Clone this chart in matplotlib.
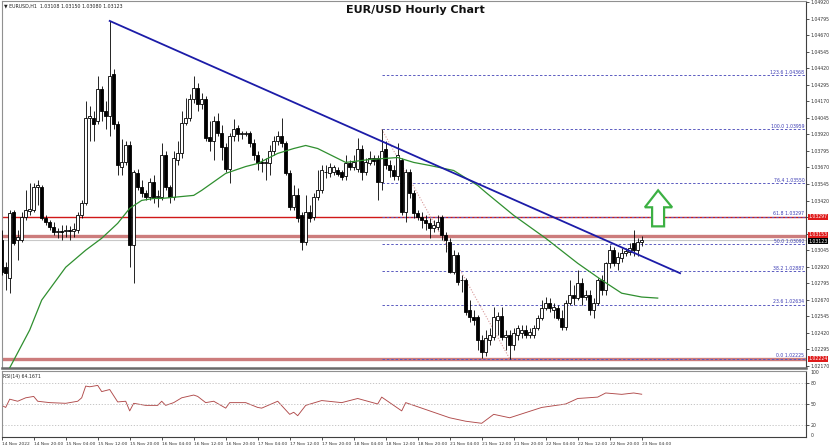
import matplotlib
matplotlib.use("Agg")
import matplotlib.pyplot as plt
import numpy as np
from matplotlib.patches import Polygon
from matplotlib.transforms import blended_transform_factory

# ---------------- data ----------------
opens = [1.03120,1.02916,1.02834,1.03331,1.03120,1.03120,1.03293,1.03338,1.03346,1.03519,
         1.03519,1.03286,1.03256,1.03218,1.03180,1.03188,1.03188,1.03195,1.03188,1.03195,
         1.03308,1.03399,1.04047,1.04047,1.04024,1.04265,1.04099,1.04062,1.04378,1.04002,
         1.03670,1.03708,1.03836,1.03082,1.03625,1.03519,1.03474,1.03444,1.03557,1.03444,
         1.03444,1.03761,1.03519,1.03444,1.03723,1.03776,1.04009,1.04047,1.04190,1.04273,
         1.04152,1.04190,1.03903,1.03873,1.04024,1.03934,1.03821,1.03662,1.03911,1.03971,
         1.03926,1.03926,1.03934,1.03858,1.03761,1.03708,1.03700,1.03700,1.03798,1.03873,
         1.03911,1.03851,1.03625,1.03369,1.03459,1.03308,1.03105,1.03331,1.03293,1.03444,
         1.03497,1.03632,1.03625,1.03632,1.03647,1.03632,1.03602,1.03700,1.03670,1.03662,
         1.03813,1.03632,1.03700,1.03738,1.03738,1.03557,1.03806,1.03685,1.03647,1.03602,
         1.03723,1.03331,1.03632,1.03474,1.03323,1.03293,1.03271,1.03248,1.03210,1.03218,
         1.03293,1.03158,1.03105,1.02879,1.03008,1.02819,1.02819,1.02593,1.02540,1.02540,
         1.02367,1.02276,1.02367,1.02389,1.02517,1.02548,1.02389,1.02404,1.02329,1.02404,
         1.02419,1.02442,1.02404,1.02404,1.02457,1.02533,1.02608,1.02646,1.02593,1.02608,
         1.02533,1.02465,1.02646,1.02706,1.02683,1.02796,1.02691,1.02706,1.02593,1.02646,
         1.02819,1.02743,1.02946,1.03045,1.02946,1.02984,1.03022,1.03030,1.03097,1.03045,
         1.03108]
highs = [1.03195,1.02954,1.03346,1.03346,1.03195,1.03331,1.03497,1.03549,1.03549,1.03572,
         1.03534,1.03308,1.03271,1.03256,1.03210,1.03233,1.03233,1.03226,1.03248,1.03331,
         1.03421,1.04175,1.04137,1.04099,1.04363,1.04288,1.04175,1.04777,1.04416,1.04024,
         1.03888,1.03873,1.03873,1.03647,1.03662,1.03572,1.03497,1.03587,1.03610,1.03497,
         1.03858,1.03798,1.03534,1.03798,1.03873,1.04099,1.04197,1.04227,1.04363,1.04310,
         1.04235,1.04212,1.04024,1.04062,1.04084,1.03987,1.03851,1.03934,1.04039,1.03987,
         1.03949,1.03949,1.03949,1.03888,1.03798,1.03738,1.03738,1.03836,1.03911,1.03949,
         1.04047,1.03873,1.03647,1.03534,1.03512,1.03331,1.03459,1.03384,1.03474,1.03647,
         1.03685,1.03685,1.03700,1.03685,1.03670,1.03647,1.03761,1.03723,1.03761,1.03896,
         1.03836,1.03738,1.03798,1.03761,1.03761,1.03957,1.03873,1.03723,1.03685,1.03851,
         1.03738,1.03662,1.03662,1.03497,1.03346,1.03331,1.03308,1.03286,1.03271,1.03308,
         1.03308,1.03180,1.03135,1.03045,1.03030,1.02856,1.02834,1.02668,1.02593,1.02556,
         1.02404,1.02442,1.02457,1.02615,1.02578,1.02615,1.02442,1.02442,1.02457,1.02480,
         1.02480,1.02480,1.02457,1.02480,1.02556,1.02668,1.02691,1.02683,1.02646,1.02630,
         1.02593,1.02668,1.02819,1.02781,1.02894,1.02834,1.02743,1.02743,1.02683,1.02834,
         1.02856,1.02954,1.03082,1.03067,1.03030,1.03060,1.03060,1.03097,1.03195,1.03135,
         1.03150]
lows = [1.02856,1.02743,1.02720,1.03082,1.02969,1.03105,1.03271,1.03308,1.03331,1.03384,
        1.03271,1.03233,1.03195,1.03158,1.03135,1.03120,1.03143,1.03120,1.03143,1.03173,
        1.03286,1.03384,1.03873,1.03873,1.04002,1.04024,1.03964,1.03911,1.03964,1.03610,
        1.03610,1.03685,1.02916,1.02796,1.03497,1.03444,1.03421,1.03421,1.03399,1.03369,
        1.03421,1.03497,1.03399,1.03421,1.03685,1.03738,1.03987,1.04024,1.04160,1.04099,
        1.04114,1.03873,1.03798,1.03723,1.03911,1.03723,1.03632,1.03549,1.03873,1.03873,
        1.03888,1.03911,1.03821,1.03723,1.03647,1.03632,1.03572,1.03610,1.03761,1.03836,
        1.03821,1.03610,1.03346,1.03346,1.03256,1.03045,1.03082,1.03256,1.03271,1.03421,
        1.03474,1.03587,1.03595,1.03610,1.03602,1.03572,1.03572,1.03647,1.03647,1.03632,
        1.03572,1.03610,1.03685,1.03685,1.03421,1.03497,1.03662,1.03595,1.03572,1.03572,
        1.03308,1.03256,1.03436,1.03286,1.03271,1.03210,1.03195,1.03135,1.03180,1.03195,
        1.03120,1.03030,1.02870,1.02864,1.02781,1.02728,1.02556,1.02502,1.02480,1.02291,
        1.02231,1.02246,1.02329,1.02367,1.02404,1.02367,1.02291,1.02225,1.02291,1.02367,
        1.02382,1.02382,1.02382,1.02382,1.02442,1.02517,1.02593,1.02578,1.02533,1.02517,
        1.02442,1.02442,1.02630,1.02630,1.02668,1.02630,1.02668,1.02556,1.02533,1.02630,
        1.02706,1.02706,1.02909,1.02924,1.02894,1.02954,1.02999,1.03007,1.02999,1.02999,
        1.03080]
closes = [1.02879,1.02871,1.03323,1.03097,1.03143,1.03293,1.03346,1.03353,1.03519,1.03534,
          1.03286,1.03256,1.03218,1.03180,1.03188,1.03180,1.03195,1.03188,1.03203,1.03308,
          1.03399,1.04047,1.04062,1.04002,1.04265,1.04099,1.04062,1.04363,1.04002,1.03685,
          1.03708,1.03836,1.03082,1.03632,1.03519,1.03474,1.03444,1.03557,1.03436,1.03451,
          1.03761,1.03519,1.03444,1.03738,1.03776,1.04009,1.04047,1.04190,1.04273,1.04152,
          1.04190,1.03896,1.03873,1.04024,1.03934,1.03821,1.03662,1.03911,1.03964,1.03926,
          1.03932,1.03934,1.03858,1.03761,1.03700,1.03705,1.03708,1.03798,1.03873,1.03911,
          1.03851,1.03625,1.03369,1.03459,1.03286,1.03105,1.03331,1.03286,1.03444,1.03497,
          1.03647,1.03635,1.03670,1.03670,1.03617,1.03595,1.03700,1.03670,1.03708,1.03813,
          1.03632,1.03708,1.03738,1.03715,1.03557,1.03798,1.03685,1.03647,1.03602,1.03761,
          1.03331,1.03632,1.03474,1.03323,1.03293,1.03271,1.03248,1.03210,1.03233,1.03256,
          1.03158,1.03120,1.02879,1.03008,1.02804,1.02823,1.02578,1.02540,1.02517,1.02367,
          1.02276,1.02382,1.02404,1.02540,1.02548,1.02389,1.02404,1.02329,1.02419,1.02457,
          1.02442,1.02404,1.02427,1.02457,1.02533,1.02608,1.02646,1.02608,1.02615,1.02533,
          1.02465,1.02646,1.02706,1.02683,1.02796,1.02691,1.02706,1.02593,1.02646,1.02819,
          1.02743,1.02946,1.03045,1.02946,1.02992,1.03022,1.03037,1.03060,1.03045,1.03105,
          1.03123]

# moving average (read at sample candles)
ma_idx = [0, 2, 7, 10, 16, 21, 25, 29, 32, 35, 38, 40, 48, 50, 56, 61, 64, 69, 73, 76,
          79, 81, 86, 92, 99, 103, 107, 113, 119, 121, 128, 136, 144, 150, 155, 160, 164]
ma_val = [1.0200, 1.02156, 1.02442, 1.02668, 1.02916, 1.03045, 1.03135, 1.03248, 1.03361,
          1.03421, 1.03436, 1.03436, 1.03459, 1.03497, 1.03625, 1.03677, 1.03700, 1.03776,
          1.03813, 1.03836, 1.03813, 1.03783, 1.03708, 1.03730, 1.03745, 1.03708, 1.03685,
          1.03647, 1.03534, 1.03482, 1.03308, 1.03135, 1.02946, 1.02819, 1.02720, 1.02691,
          1.02683]

# RSI(14) (read at sample candles)
rsi_idx = [0, 1, 2, 4, 6, 8, 9, 12, 16, 19, 20, 21, 22, 24, 25, 27, 29, 31, 32, 33, 36,
           39, 40, 41, 43, 45, 48, 49, 51, 53, 56, 57, 61, 64, 65, 69, 72, 73, 74, 76, 80,
           85, 89, 94, 95, 100, 101, 107, 112, 116, 120, 123, 127, 135, 141, 144, 149, 151,
           155, 158, 160]
rsi_val = [48, 45, 57, 54, 59, 61, 54, 52, 51, 54, 59, 76, 75, 77, 68, 71, 53, 54, 40, 51,
           48, 48, 54, 48, 52, 59, 63, 61, 52, 54, 44, 52, 52, 45, 44, 54, 35, 38, 33, 48,
           55, 52, 58, 50, 60, 40, 52, 40, 30, 25, 22, 35, 30, 45, 50, 58, 60, 66, 64, 66,
           64.17]

date_labels = ['14 Nov 2022', '14 Nov 20:00', '15 Nov 04:00', '15 Nov 12:00', '15 Nov 20:00',
               '16 Nov 04:00', '16 Nov 12:00', '16 Nov 20:00', '17 Nov 04:00', '17 Nov 12:00',
               '17 Nov 20:00', '18 Nov 04:00', '18 Nov 12:00', '18 Nov 20:00', '21 Nov 04:00',
               '21 Nov 12:00', '21 Nov 20:00', '22 Nov 04:00', '22 Nov 12:00', '22 Nov 20:00',
               '23 Nov 04:00']

fib_levels = ['123.6', '100.0', '76.4', '61.8', '50.0', '38.2', '23.6', '0.0']
fib_prices = [1.04368, 1.03959, 1.03550, 1.03297, 1.03092, 1.02887, 1.02634, 1.02225]
fib_start, fib_end = 95, 127          # candle of the swing high / swing low

trend_idx = [27, 169.6]
trend_val = [1.04777, 1.02871]

resistance_hi = 1.03297
resistance_lo = 1.03153
current_price = 1.03123
support = 1.02224

price_ticks = [1.04920, 1.04795, 1.04670, 1.04545, 1.04420, 1.04295, 1.04170, 1.04045,
               1.03920, 1.03795, 1.03670, 1.03545, 1.03420, 1.03295, 1.03170, 1.03045,
               1.02920, 1.02795, 1.02670, 1.02545, 1.02420, 1.02295, 1.02170]
hidden_ticks = [1.03295, 1.03170]   # covered by the price boxes in the original

# ---------------- figure ----------------
W, H = 836, 448
fig = plt.figure(figsize=(W / 100, H / 100), dpi=100)
fig.patch.set_facecolor('white')


def rect(x0, y0, x1, y1):
    return [x0 / W, 1 - y1 / H, (x1 - x0) / W, (y1 - y0) / H]


ax = fig.add_axes(rect(1.5, 1, 806, 368))
ax2 = fig.add_axes(rect(1.5, 371, 806, 437))

x_left = -0.05
x_right = x_left + (806 - 1.5) / 4.0
ax.set_xlim(x_left, x_right)
ax2.set_xlim(x_left, x_right)
ax.set_ylim(1.021549, 1.049275)

n = len(closes)
idx = np.arange(n)
o = np.array(opens); h = np.array(highs); l = np.array(lows); c = np.array(closes)

# wicks
ax.vlines(idx, l, h, color='black', lw=0.6, zorder=3)
# bodies
bottoms = np.minimum(o, c)
heights = np.maximum(np.abs(c - o), 0.000015)
colors = ['white' if cc >= oo else 'black' for oo, cc in zip(o, c)]
ax.bar(idx, heights, bottom=bottoms, width=0.62, color=colors, edgecolor='black',
       linewidth=0.6, zorder=4)

# horizontal lines
ax.axhline(resistance_hi, color='#d01818', lw=1.0, zorder=2)
ax.axhline(resistance_lo, color='#cc7c7c', lw=2.4, zorder=2)
ax.axhline(current_price, color='#c8c8c8', lw=0.8, zorder=1)
ax.axhline(support, color='#cc7c7c', lw=2.4, zorder=2)

# fibonacci
for lev, pr in zip(fib_levels, fib_prices):
    ax.hlines(pr, fib_start, x_right, colors='#5a5ac0', lw=0.7, linestyles=(0, (2.5, 2)), zorder=2)
    ax.text(x_right - 0.4, pr + 0.00003, f'{lev} {pr:.5f}', ha='right', va='bottom',
            fontsize=3.3, color='#3c3cb4', zorder=6)
ax.plot([fib_start, fib_end], [fib_prices[1], fib_prices[-1]], color='#d89a9a', lw=0.8,
        linestyle=(0, (1, 1.5)), zorder=2)

# moving average
ax.plot(ma_idx, ma_val, color='#2f8f2f', lw=0.9, zorder=5)

# trend line
ax.plot(trend_idx, trend_val, color='#1c1ca8', lw=1.3, zorder=5)

# green arrow (annotation)
arrow = Polygon([(164.1, 1.03497), (167.6, 1.03369), (165.6, 1.03369), (165.6, 1.03225),
                 (162.6, 1.03225), (162.6, 1.03369), (160.8, 1.03369)],
                closed=True, facecolor='white', edgecolor='#3cb043', lw=1.6, zorder=6)
ax.add_patch(arrow)

# axes styling (main)
ax.yaxis.tick_right()
ax.set_yticks(price_ticks)
ax.set_yticklabels(['' if t in hidden_ticks else f'{t:.5f}' for t in price_ticks])
ax.tick_params(axis='y', which='both', length=2, width=0.6, pad=1.5, labelsize=3.3,
               colors='#333333')
ax.set_xticks([])
for s in ['left', 'top', 'bottom']:
    ax.spines[s].set_color('#909090')
    ax.spines[s].set_linewidth(0.8)
ax.spines['right'].set_color('#404040')
ax.spines['right'].set_linewidth(0.8)
ax.spines['bottom'].set_linewidth(1.8)
ax.spines['bottom'].set_color('#6a6a6a')

# price boxes (small vertical nudges so the two adjacent boxes just touch)
px = 0.0000753
trans = blended_transform_factory(ax.transAxes, ax.transData)
for pr, fc, dy in [(resistance_hi, '#e01b1b', 0), (resistance_lo, '#e01b1b', 1.2 * px),
                   (current_price, '#000000', -1.2 * px), (support, '#e01b1b', 0)]:
    ax.text(1.003, pr + dy, f'{pr:.5f}', transform=trans, ha='left', va='center',
            fontsize=3.3, color='white', zorder=10, clip_on=False,
            bbox=dict(boxstyle='square,pad=0.12', fc=fc, ec='none'))

# RSI panel
ax2.set_ylim(2.1, 97.9)
ax2.plot(rsi_idx, rsi_val, color='#b04a4a', lw=0.65)
for lv in [80, 50, 20]:
    ax2.axhline(lv, color='#bdbdbd', lw=0.6, linestyle=(0, (1.5, 2)))
ax2.yaxis.tick_right()
ax2.set_yticks([80, 50, 20])
ax2.set_yticklabels(['80', '50', '20'])
ax2.tick_params(axis='y', length=2, width=0.6, pad=1.5, labelsize=3.3, colors='#333333')
t2 = blended_transform_factory(ax2.transAxes, ax2.transData)
ax2.text(1.006, 95, '100', transform=t2, fontsize=3.3, color='#333333', va='center')
ax2.text(1.006, 5, '0', transform=t2, fontsize=3.3, color='#333333', va='center')
ax2.text(0.002, 93, 'RSI(14) 64.1671', transform=t2, fontsize=3.3, color='#222222', va='top')

ax2.set_xticks(np.arange(0, 161, 8))
ax2.set_xticklabels(date_labels, ha='left')
ax2.tick_params(axis='x', length=2, width=0.6, pad=1.5, labelsize=3.2, colors='#333333')
for s in ['left', 'top']:
    ax2.spines[s].set_color('#909090')
    ax2.spines[s].set_linewidth(0.8)
ax2.spines['right'].set_color('#404040')
ax2.spines['bottom'].set_color('#404040')
ax2.spines['right'].set_linewidth(0.8)
ax2.spines['bottom'].set_linewidth(0.8)

# header texts
fig.text(4 / W, 1 - 6 / H, '▼ EURUSD,H1  1.03108 1.03150 1.03080 1.03123', fontsize=3.4,
         color='#222222', va='center', ha='left')
fig.text(0.497, 1 - 10 / H, 'EUR/USD Hourly Chart', fontsize=8, fontweight='bold',
         ha='center', va='center', color='#111111')

fig.savefig('out.png', dpi=100, facecolor='white')
